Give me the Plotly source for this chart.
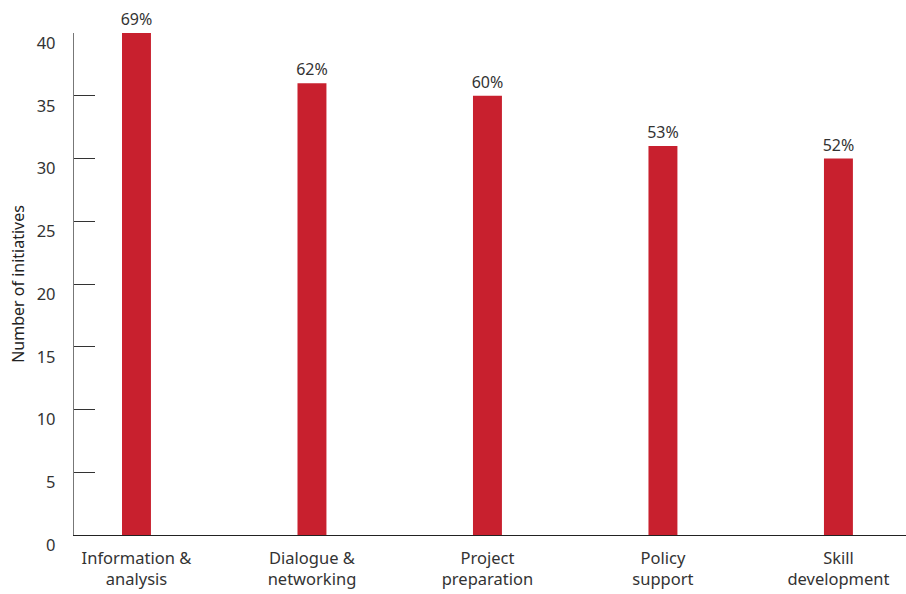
import plotly.graph_objects as go

categories = ["Information &<br>analysis", "Dialogue &<br>networking", "Project<br>preparation",
              "Policy<br>support", "Skill<br>development"]
values = [40, 36, 35, 31, 30]
pct_labels = ["69%", "62%", "60%", "53%", "52%"]
y_ticks = [0, 5, 10, 15, 20, 25, 30, 35, 40]

fig = go.Figure()
fig.add_trace(go.Bar(
    x=list(range(len(categories))),
    y=values,
    text=pct_labels,
    textposition="outside",
    constraintext="none",
    textfont=dict(family="Noto Sans", size=16, color="#333333"),
    marker=dict(color="#C8202E", line=dict(width=0)),
    width=0.165,
    cliponaxis=False,
    hoverinfo="skip",
))

fig.update_layout(
    width=906, height=594,
    margin=dict(l=74, r=0, t=33, b=59),
    paper_bgcolor="white", plot_bgcolor="white",
    font=dict(family="Noto Sans", size=16, color="#333333"),
    showlegend=False,
    xaxis=dict(
        range=[-0.356, 4.385],
        tickmode="array",
        tickvals=list(range(len(categories))),
        ticktext=categories,
        showgrid=False, zeroline=False,
        showline=True, linecolor="#222222", linewidth=1.3,
        ticks="",
        tickfont=dict(size=16.5, color="#333333"),
        ticklabelstandoff=8,
    ),
    yaxis=dict(
        range=[0, 40],
        tickmode="array",
        tickvals=y_ticks,
        showgrid=False, zeroline=False,
        showline=True, linecolor="#777777", linewidth=1.3,
        ticks="inside", ticklen=21, tickwidth=1.2, tickcolor="#333333",
        tickfont=dict(size=16.5, color="#333333"),
        ticklabelstandoff=14,
        ticklabelshift=10,
        title=dict(text="Number of initiatives", font=dict(size=16, color="#222222"), standoff=8),
    ),
)

fig.write_html("out.html")
